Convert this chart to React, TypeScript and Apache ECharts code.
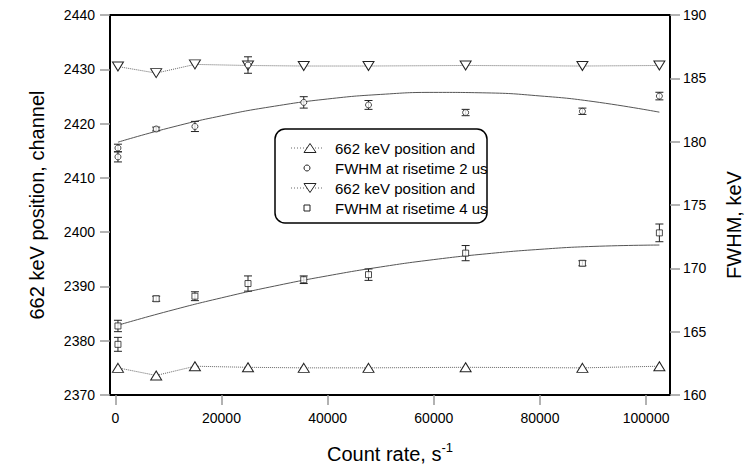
import React, { useEffect, useRef } from "react";
import * as echarts from "echarts";

// ---- data ----
const xTickValues = [0, 20000, 40000, 60000, 80000, 100000];
const countRate = [500, 7700, 15000, 25000, 35500, 47700, 66000, 88000, 102500];
const position2us = [2375.0, 2373.6, 2375.3, 2375.1, 2375.0, 2375.0, 2375.1, 2375.0, 2375.3];
const position4us = [2430.5, 2429.3, 2430.9, 2430.7, 2430.6, 2430.6, 2430.7, 2430.6, 2430.7];

const fwhmRate = [500, 500, 7700, 15000, 25000, 35500, 47700, 66000, 88000, 102500];
const fwhm2us = [179.5, 178.8, 181.0, 181.2, 186.05, 183.1, 182.9, 182.3, 182.4, 183.6];
const fwhm2usErr = [0.3, 0.4, 0.15, 0.4, 0.65, 0.45, 0.35, 0.25, 0.25, 0.3];
const fwhm4us = [165.45, 164.0, 167.6, 167.8, 168.8, 169.1, 169.5, 171.2, 170.4, 172.8];
const fwhm4usErr = [0.45, 0.55, 0.2, 0.35, 0.6, 0.3, 0.45, 0.6, 0.2, 0.7];

const fitRate = [500, 10000, 20000, 30000, 40000, 50000, 60000, 70000, 80000, 90000, 102500];
const fit2us = [179.96, 181.07, 182.04, 182.8, 183.37, 183.73, 183.89, 183.85, 183.61, 183.17, 182.33];
const fit4us = [165.51, 166.62, 167.67, 168.6, 169.41, 170.11, 170.69, 171.15, 171.5, 171.73, 171.84];

const legendLabels = [
  "662 keV position and",
  "FWHM at risetime 2 us",
  "662 keV position and",
  "FWHM at risetime 4 us",
];

const FONT = "'Liberation Sans', Arial, sans-serif";
const MARK = "#222";

const zip = (xs: number[], ys: number[]) => xs.map((x, i) => [x, ys[i]]);
const zip3 = (xs: number[], ys: number[], es: number[]) => xs.map((x, i) => [x, ys[i], es[i]]);
const plain = (v: number) => String(v);

const errRender = (params: any, api: any) => {
  const x = api.value(0);
  const y = api.value(1);
  const e = api.value(2);
  const top = api.coord([x, y + e]);
  const bot = api.coord([x, y - e]);
  const w = 4;
  const style = { stroke: MARK, lineWidth: 1 };
  return {
    type: "group",
    children: [
      { type: "line", shape: { x1: top[0], y1: top[1], x2: bot[0], y2: bot[1] }, style },
      { type: "line", shape: { x1: top[0] - w, y1: top[1], x2: top[0] + w, y2: top[1] }, style },
      { type: "line", shape: { x1: bot[0] - w, y1: bot[1], x2: bot[0] + w, y2: bot[1] }, style },
    ],
  };
};

export default function App() {
  const ref = useRef<HTMLDivElement>(null);
  useEffect(() => {
    document.body.style.margin = "0";
    const chart = echarts.init(ref.current!, undefined, { renderer: "svg" });
    const markerStyle = { color: "#fff", borderColor: MARK, borderWidth: 1 };
    const lx = 275, ly = 129;
    const rowY = [ly + 19, ly + 39, ly + 59, ly + 79];
    const textX = 335;
    const dotted = { stroke: "#666", lineWidth: 1, lineDash: [1, 2] };
    const option: any = {
      animation: false,
      backgroundColor: "#fff",
      grid: {
        left: 110,
        right: 86,
        top: 15,
        bottom: 80,
        show: true,
        borderColor: "#000",
        borderWidth: 2,
        backgroundColor: "transparent",
      },
      xAxis: {
        type: "value",
        min: -1000,
        max: 104500,
        name: "{a|Count rate, s}{b|-1}",
        nameLocation: "middle",
        nameGap: 46,
        nameTextStyle: {
          rich: {
            a: { fontSize: 20, fontFamily: FONT, color: "#000", lineHeight: 26 },
            b: { fontSize: 13, fontFamily: FONT, color: "#000", verticalAlign: "top", lineHeight: 26 },
          },
        },
        axisLine: { show: true, onZero: false, lineStyle: { color: "#000", width: 2 } },
        axisTick: { show: true, length: 10, customValues: xTickValues, lineStyle: { color: "#999", width: 1.5 } },
        axisLabel: { customValues: xTickValues, formatter: plain, fontSize: 14, fontFamily: FONT, color: "#000", margin: 16 },
        splitLine: { show: false },
      },
      yAxis: [
        {
          type: "value",
          min: 2370,
          max: 2440,
          interval: 10,
          position: "left",
          name: "662 keV position, channel",
          nameLocation: "middle",
          nameGap: 63,
          nameTextStyle: { fontSize: 20, fontFamily: FONT, color: "#000" },
          axisLine: { show: true, onZero: false, lineStyle: { color: "#000", width: 2 } },
          axisTick: { show: true, length: 10, lineStyle: { color: "#999", width: 1.5 } },
          axisLabel: { formatter: plain, fontSize: 14, fontFamily: FONT, color: "#000", margin: 15 },
          splitLine: { show: false },
        },
        {
          type: "value",
          min: 160,
          max: 190,
          interval: 5,
          position: "right",
          name: "FWHM, keV",
          nameLocation: "middle",
          nameGap: 54,
          nameTextStyle: { fontSize: 20, fontFamily: FONT, color: "#000", padding: [0, 40, 0, 0] },
          axisLine: { show: true, onZero: false, lineStyle: { color: "#000", width: 2 } },
          axisTick: { show: true, length: 10, lineStyle: { color: "#999", width: 1.5 } },
          axisLabel: { formatter: plain, fontSize: 14, fontFamily: FONT, color: "#000", margin: 13 },
          splitLine: { show: false },
        },
      ],
      series: [
        {
          type: "line",
          yAxisIndex: 1,
          data: zip(fitRate, fit2us),
          smooth: true,
          showSymbol: false,
          lineStyle: { color: "#555", width: 1 },
          z: 2,
        },
        {
          type: "line",
          yAxisIndex: 1,
          data: zip(fitRate, fit4us),
          smooth: true,
          showSymbol: false,
          lineStyle: { color: "#555", width: 1 },
          z: 2,
        },
        {
          type: "line",
          name: "662 keV position (2 us)",
          yAxisIndex: 0,
          data: zip(countRate, position2us),
          symbol: "triangle",
          symbolSize: [11, 9],
          itemStyle: markerStyle,
          lineStyle: { color: "#666", width: 1, type: "dotted" },
          z: 5,
        },
        {
          type: "line",
          name: "662 keV position (4 us)",
          yAxisIndex: 0,
          data: zip(countRate, position4us),
          symbol: "triangle",
          symbolRotate: 180,
          symbolSize: [11, 9],
          itemStyle: markerStyle,
          lineStyle: { color: "#666", width: 1, type: "dotted" },
          z: 5,
        },
        {
          type: "custom",
          yAxisIndex: 1,
          renderItem: errRender,
          data: zip3(fwhmRate, fwhm2us, fwhm2usErr),
          encode: { x: 0, y: 1 },
          z: 4,
        },
        {
          type: "custom",
          yAxisIndex: 1,
          renderItem: errRender,
          data: zip3(fwhmRate, fwhm4us, fwhm4usErr),
          encode: { x: 0, y: 1 },
          z: 4,
        },
        {
          type: "scatter",
          name: "FWHM at risetime 2 us",
          yAxisIndex: 1,
          data: zip(fwhmRate, fwhm2us),
          symbol: "circle",
          symbolSize: 6,
          itemStyle: markerStyle,
          z: 6,
        },
        {
          type: "scatter",
          name: "FWHM at risetime 4 us",
          yAxisIndex: 1,
          data: zip(fwhmRate, fwhm4us),
          symbol: "rect",
          symbolSize: 6,
          itemStyle: markerStyle,
          z: 6,
        },
      ],
      graphic: [
        {
          type: "group",
          z: 100,
          children: [
            {
              type: "rect",
              shape: { x: lx, y: ly, width: 212, height: 94, r: 10 },
              style: { fill: "#fff", stroke: "#000", lineWidth: 1.5 },
            },
            { type: "line", shape: { x1: 291, y1: rowY[0], x2: 323, y2: rowY[0] }, style: dotted },
            {
              type: "polygon",
              shape: { points: [[304, rowY[0] + 4.5], [316, rowY[0] + 4.5], [310, rowY[0] - 4.5]] },
              style: { fill: "#fff", stroke: MARK, lineWidth: 1 },
            },
            { type: "circle", shape: { cx: 307, cy: rowY[1], r: 3 }, style: { fill: "#fff", stroke: MARK, lineWidth: 1 } },
            { type: "line", shape: { x1: 291, y1: rowY[2], x2: 323, y2: rowY[2] }, style: dotted },
            {
              type: "polygon",
              shape: { points: [[304, rowY[2] - 4.5], [316, rowY[2] - 4.5], [310, rowY[2] + 4.5]] },
              style: { fill: "#fff", stroke: MARK, lineWidth: 1 },
            },
            { type: "rect", shape: { x: 304, y: rowY[3] - 3, width: 6, height: 6 }, style: { fill: "#fff", stroke: MARK, lineWidth: 1 } },
            ...legendLabels.map((t, i) => ({
              type: "text",
              x: textX,
              y: rowY[i],
              style: { text: t, fontSize: 15, fontFamily: FONT, fill: "#000", textVerticalAlign: "middle", verticalAlign: "middle" },
            })),
          ],
        },
      ],
    };
    chart.setOption(option);
    return () => chart.dispose();
  }, []);
  return <div ref={ref} style={{ width: 756, height: 475 }} />;
}
